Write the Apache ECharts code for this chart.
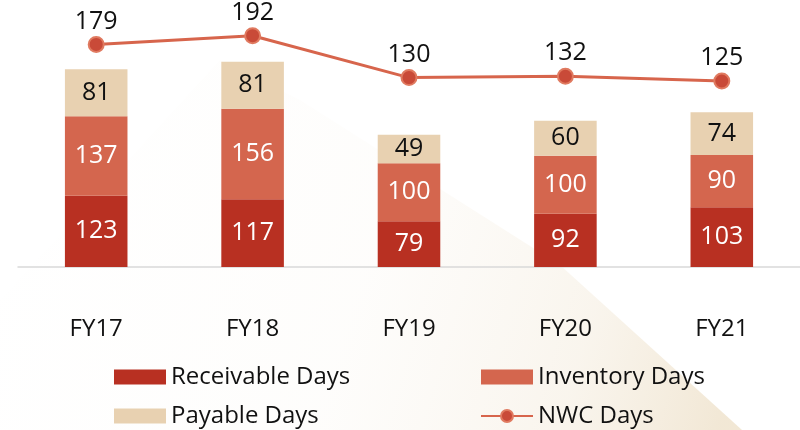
<!DOCTYPE html>
<html>
<head>
<meta charset="UTF-8">
<title>NWC Days</title>
<script type="text/javascript" src="https://cdn.jsdelivr.net/npm/echarts@6/dist/echarts.min.js"></script>
<style>
  html, body { margin: 0; padding: 0; background: #fff; }
  #main { width: 800px; height: 430px; }
</style>
</head>
<body>
<div id="main"></div>
<script type="text/javascript">
    // data
    var years = ['FY17', 'FY18', 'FY19', 'FY20', 'FY21'];
    var receivableDays = [123, 117, 79, 92, 103];
    var inventoryDays = [137, 156, 100, 100, 90];
    var payableDays = [81, 81, 49, 60, 74];
    var nwcDays = [179, 192, 130, 132, 125];

    var font = 'Open Sans';
    var myChart = echarts.init(document.getElementById('main'));

    function barSeries(name, values, color, textColor) {
        return {
            name: name,
            type: 'bar',
            stack: 'days',
            barWidth: '40%',
            data: values,
            itemStyle: { color: color },
            label: {
                show: true,
                position: 'inside',
                color: textColor,
                fontFamily: font,
                fontSize: 25
            },
            z: 3
        };
    }

    var legendBase = {
        orient: 'vertical',
        top: 365,
        height: 90,
        padding: 0,
        itemWidth: 52,
        itemHeight: 15,
        itemGap: 15,
        textStyle: { fontFamily: font, fontSize: 24, color: '#111', lineHeight: 24 }
    };

    var option = {
        backgroundColor: '#fff',
        animation: false,
        textStyle: { fontFamily: font },
        // faint decorative fan behind the chart
        graphic: [{
            type: 'polygon',
            silent: true,
            z: -10,
            shape: {
                points: [[220, 60], [300, 100], [560, 265], [742, 430], [0, 430], [0, 300]]
            },
            style: {
                fill: {
                    type: 'linear', x: 0, y: 0.2, x2: 1, y2: 0.8,
                    colorStops: [
                        { offset: 0, color: 'rgba(235,225,205,0)' },
                        { offset: 0.5, color: 'rgba(232,215,185,0.05)' },
                        { offset: 0.8, color: 'rgba(226,204,165,0.2)' },
                        { offset: 1, color: 'rgba(222,196,150,0.4)' }
                    ]
                }
            }
        }],
        grid: { left: 18, top: 35, width: 787, height: 232 },
        legend: [
            Object.assign({}, legendBase, {
                left: 114,
                data: [{ name: 'Receivable Days', icon: 'rect' }, { name: 'Payable Days', icon: 'rect' }]
            }),
            Object.assign({}, legendBase, {
                left: 480,
                data: [{ name: 'Inventory Days', icon: 'rect' }, 'NWC Days']
            })
        ],
        xAxis: {
            type: 'category',
            data: years,
            axisLine: { lineStyle: { color: '#d9d9d9', width: 1.5 } },
            axisTick: { show: false },
            axisLabel: { color: '#111', fontFamily: font, fontSize: 24, margin: 50 }
        },
        yAxis: [
            { type: 'value', min: 0, max: 400, show: false },
            { type: 'value', min: -150, max: 193, show: false }
        ],
        series: [
            barSeries('Receivable Days', receivableDays, '#b83022', '#fff'),
            barSeries('Inventory Days', inventoryDays, '#d4664e', '#fff'),
            barSeries('Payable Days', payableDays, '#e8d1b1', '#111'),
            {
                name: 'NWC Days',
                type: 'line',
                yAxisIndex: 1,
                data: nwcDays,
                clip: false,
                symbol: 'circle',
                symbolSize: 15,
                lineStyle: { color: '#d7654c', width: 3 },
                itemStyle: { color: '#c94a38', borderColor: '#e07a60', borderWidth: 2 },
                label: {
                    show: true,
                    position: 'top',
                    distance: 2,
                    color: '#111',
                    fontFamily: font,
                    fontSize: 25
                },
                z: 5
            }
        ]
    };

    myChart.setOption(option);
</script>
</body>
</html>
